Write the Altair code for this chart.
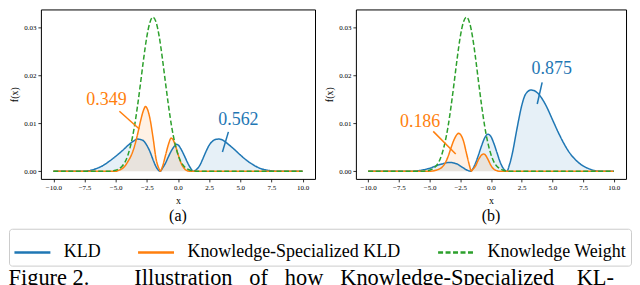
import altair as alt
import pandas as pd

SERIF = "Liberation Serif"

# ---------------- chart content ----------------
series_names = ["KLD", "Knowledge-Specialized KLD", "Knowledge Weight"]
series_colors = ["#1f77b4", "#ff7f0e", "#2ca02c"]

x_ticks = [-10, -7.5, -5, -2.5, 0, 2.5, 5, 7.5, 10]
y_ticks = [0.0, 0.01, 0.02, 0.03]
panel_labels = ["(a)", "(b)"]
x_title = "x"
y_title = "f(x)"
caption_words = ["Figure 2.", "Illustration", "of", "how", "Knowledge-Specialized", "KL-"]

# Knowledge weight (same curve in both panels)
w_x = [-10, -5.5, -5.0, -4.75, -4.5, -4.25, -4.0, -3.75, -3.5, -3.25, -3.0, -2.75, -2.5, -2.25,
       -2.0, -1.75, -1.5, -1.25, -1.0, -0.75, -0.5, -0.25, 0.0, 0.25, 0.5, 0.75, 1.0, 1.5, 10]
w_y = [0, 0, 0.0002, 0.0005, 0.0010, 0.0019, 0.0035, 0.0059, 0.0092, 0.0135, 0.0184, 0.0235, 0.0280, 0.0310,
       0.0321, 0.0310, 0.0280, 0.0235, 0.0184, 0.0135, 0.0092, 0.0059, 0.0035, 0.0019, 0.0010, 0.0005, 0.0002, 0, 0]

# Panel (a)
a_kld_x = [-10, -7.5, -7.0, -6.5, -6.0, -5.5, -5.0, -4.5, -4.0, -3.5, -3.25, -3.0, -2.75, -2.5, -2.25,
           -2.0, -1.75, -1.42, -1.25, -1.0, -0.75, -0.5, -0.25, -0.1, 0.0, 0.25, 0.5, 0.75, 1.0, 1.25,
           1.5, 1.75, 2.0, 2.25, 2.5, 2.75, 3.0, 3.25, 3.5, 3.75, 4.0, 4.5, 5.0, 5.5, 6.0, 6.5, 7.0,
           7.5, 8.0, 10]
a_kld_y = [0, 0, 0.0002, 0.0006, 0.0012, 0.0021, 0.0031, 0.0042, 0.0054, 0.0064, 0.0067, 0.0066, 0.0063,
           0.0054, 0.0041, 0.0024, 0.0009, 0, 0.0006, 0.0017, 0.0031, 0.0044, 0.0053, 0.0056, 0.0055,
           0.0046, 0.0033, 0.0019, 0.0007, 0, 0.0004, 0.0012, 0.0026, 0.0041, 0.0054, 0.0062, 0.0066,
           0.0067, 0.0066, 0.0062, 0.0057, 0.0046, 0.0034, 0.0023, 0.0014, 0.0007, 0.0003, 0.0001, 0, 0]
a_ks_x = [-10, -5.0, -4.75, -4.5, -4.25, -4.0, -3.75, -3.5, -3.25, -3.0, -2.75, -2.6, -2.5, -2.25, -2.0,
          -1.75, -1.5, -1.42, -1.25, -1.0, -0.75, -0.55, -0.4, -0.25, 0.0, 0.25, 0.5, 0.75, 1.0, 10]
a_ks_y = [0, 0, 0.0002, 0.0005, 0.0011, 0.0021, 0.0033, 0.0051, 0.0076, 0.0105, 0.0128, 0.0135, 0.0132,
          0.0110, 0.0070, 0.0025, 0.0004, 0, 0.0009, 0.0033, 0.0057, 0.0069, 0.0066, 0.0057, 0.0036,
          0.0017, 0.0006, 0.0001, 0, 0]
a_ann_labels = ["0.349", "0.562"]
a_ann_x = [-5.74, 4.85]
a_ann_y = [0.0148, 0.0107]
a_lead_x = [-4.7, 4.05]
a_lead_y = [0.0125, 0.0082]
a_lead_x2 = [-3.1, 3.57]
a_lead_y2 = [0.0088, 0.0040]

# Panel (b)
b_kld_x = [-10, -6.5, -6.0, -5.5, -5.0, -4.5, -4.0, -3.5, -3.25, -3.0, -2.75, -2.5, -2.25, -2.0, -1.65,
           -1.5, -1.25, -1.0, -0.75, -0.5, -0.25, 0.0, 0.25, 0.5, 0.75, 1.0, 1.3, 1.5, 1.75, 2.0, 2.25,
           2.5, 2.75, 3.0, 3.25, 3.5, 3.75, 4.0, 4.5, 5.0, 5.5, 6.0, 6.5, 7.0, 7.5, 8.0, 8.5, 9.0, 10]
b_kld_y = [0, 0, 0.0001, 0.0003, 0.0006, 0.0011, 0.0015, 0.0018, 0.0018, 0.0017, 0.0015, 0.0011, 0.0007,
           0.0003, 0, 0.0004, 0.0017, 0.0035, 0.0054, 0.0070, 0.0077, 0.0072, 0.0057, 0.0038, 0.0019,
           0.0006, 0, 0.0013, 0.0038, 0.0072, 0.0106, 0.0136, 0.0157, 0.0166, 0.0169, 0.0168, 0.0164,
           0.0157, 0.0136, 0.0108, 0.0080, 0.0055, 0.0035, 0.0021, 0.0011, 0.0005, 0.0001, 0, 0]
b_ks_x = [-10, -5.0, -4.5, -4.0, -3.75, -3.5, -3.25, -3.0, -2.75, -2.65, -2.5, -2.25, -2.0, -1.75, -1.6,
          -1.5, -1.25, -1.0, -0.75, -0.6, -0.5, -0.25, 0.0, 0.25, 0.5, 0.75, 10]
b_ks_y = [0, 0, 0.0002, 0.0008, 0.0016, 0.0030, 0.0049, 0.0066, 0.0077, 0.0079, 0.0077, 0.0064, 0.0038,
          0.0012, 0, 0.0003, 0.0011, 0.0025, 0.0034, 0.0036, 0.0035, 0.0025, 0.0012, 0.0004, 0.0001, 0, 0]
b_ann_labels = ["0.186", "0.875"]
b_ann_x = [-5.77, 4.95]
b_ann_y = [0.0103, 0.0212]
b_lead_x = [-4.7, 4.17]
b_lead_y = [0.0083, 0.0185]
b_lead_x2 = [-2.87, 3.77]
b_lead_y2 = [0.0036, 0.0140]

# ---------------- building the chart ----------------
color_scale = alt.Scale(domain=series_names, range=series_colors)
dash_scale = alt.Scale(domain=series_names, range=[[1, 0], [1, 0], [5, 2.5]])
legend = alt.Legend(
    orient="none", legendX=-32, legendY=220, direction="horizontal", title=None,
    symbolType="stroke", symbolSize=1300, symbolStrokeWidth=2.5,
    labelFont=SERIF, labelFontSize=18, labelColor="black", labelOffset=12, labelLimit=400,
    columnPadding=32, padding=4, strokeColor="#cccccc", cornerRadius=3, fillColor="white",
)
x_scale = alt.Scale(domain=[-11, 11], nice=False, zero=False)
y_scale = alt.Scale(domain=[-0.0016, 0.0337], nice=False, zero=False)
X = alt.X("x:Q", scale=x_scale,
          axis=alt.Axis(values=x_ticks, format=".1f", title=x_title, labelOverlap=False,
                        titleY=22, titleBaseline="middle"))
Y = alt.Y("y:Q", scale=y_scale,
          axis=alt.Axis(values=y_ticks, format=".2f", title=y_title, labelOverlap=False))


def panel(kld_x, kld_y, ks_x, ks_y, ann_labels, ann_x, ann_y, lx, ly, lx2, ly2, label, width):
    kld = pd.DataFrame({"x": kld_x, "y": kld_y, "series": series_names[0]})
    ks = pd.DataFrame({"x": ks_x, "y": ks_y, "series": series_names[1]})
    wt = pd.DataFrame({"x": w_x, "y": w_y, "series": series_names[2]})
    C = alt.Color("series:N", scale=color_scale, legend=legend)
    D = alt.StrokeDash("series:N", scale=dash_scale, legend=legend)

    layers = []
    for df, col in [(kld, series_colors[0]), (ks, series_colors[1])]:
        layers.append(alt.Chart(df).mark_area(color=col, opacity=0.11, interpolate="monotone")
                      .encode(x=X, y=Y))
    for df in [kld, ks, wt]:
        layers.append(alt.Chart(df).mark_line(interpolate="monotone", strokeWidth=1.5)
                      .encode(x=X, y=Y, color=C, strokeDash=D))
    texts = pd.DataFrame({"x": ann_x, "y": ann_y, "label": ann_labels})
    leads = pd.DataFrame({"x": lx, "y": ly, "x2": lx2, "y2": ly2})
    for i, col in [(0, series_colors[1]), (1, series_colors[0])]:
        layers.append(alt.Chart(leads.iloc[[i]]).mark_rule(color=col, strokeWidth=1.5)
                      .encode(x=X, y=Y, x2="x2:Q", y2="y2:Q"))
        layers.append(alt.Chart(texts.iloc[[i]]).mark_text(color=col, font=SERIF, fontSize=18,
                                                           align="center", baseline="middle")
                      .encode(x=X, y=Y, text="label:N"))
    return alt.layer(*layers).properties(
        width=width, height=170,
        title=alt.TitleParams(label, orient="bottom", fontSize=16, font=SERIF,
                              fontWeight="normal", offset=2, anchor="middle"),
    )


pa = panel(a_kld_x, a_kld_y, a_ks_x, a_ks_y, a_ann_labels, a_ann_x, a_ann_y,
           a_lead_x, a_lead_y, a_lead_x2, a_lead_y2, panel_labels[0], 275)
pb = panel(b_kld_x, b_kld_y, b_ks_x, b_ks_y, b_ann_labels, b_ann_x, b_ann_y,
           b_lead_x, b_lead_y, b_lead_x2, b_lead_y2, panel_labels[1], 271)

nb = "\u00a0"
caption = (caption_words[0] + nb * 8 + (nb * 3).join(caption_words[1:-1])
           + nb * 4 + caption_words[-1])

chart = (
    alt.hconcat(pa, pb, spacing=8)
    .resolve_scale(color="shared", strokeDash="shared")
    .properties(
        padding=0,
        title=alt.TitleParams(caption, orient="bottom", anchor="start", fontSize=22.5,
                              font=SERIF, fontWeight="normal", color="black", offset=1),
    )
    .configure_view(stroke="black", strokeWidth=1)
    .configure_axis(
        grid=False, domain=False, tickColor="black", tickSize=3, tickWidth=0.8,
        labelFont=SERIF, labelFontSize=7, labelColor="black", labelPadding=2,
        titleFont=SERIF, titleFontSize=10, titleFontWeight="normal", titleColor="black",
        titlePadding=4,
    )
)

chart.save("out.html", embed_options={"renderer": "svg", "actions": False})
